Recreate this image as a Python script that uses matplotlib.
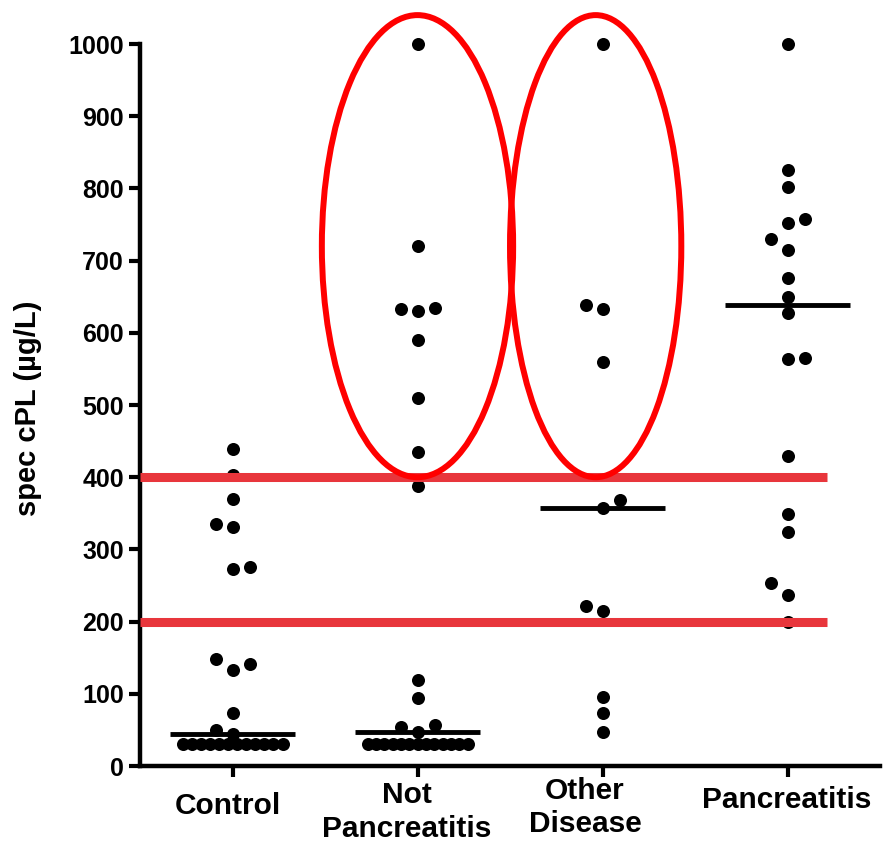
import matplotlib
matplotlib.use('Agg')
import matplotlib.pyplot as plt
from matplotlib.patches import Ellipse
import numpy as np

plt.rcParams['font.family'] = ['Liberation Sans', 'DejaVu Sans']
plt.rcParams['font.weight'] = 'bold'

# values (30 = assay floor, 1000 = assay ceiling)
groups = ['Control', 'Not\nPancreatitis', 'Other\nDisease', 'Pancreatitis']
control = [439, 403, 370, 335, 331, 276, 273, 148, 141, 133, 73, 50, 44] + [30] * 12
not_pancreatitis = [1000, 720, 634, 633, 630, 590, 510, 435, 388, 119, 94, 57, 54, 47] + [30] * 13
other_disease = [1000, 638, 633, 560, 368, 357, 221, 215, 96, 73, 47]
pancreatitis = [1000, 825, 802, 758, 752, 730, 714, 676, 650, 627, 565, 564,
                429, 349, 324, 254, 237, 200]
series = [control, not_pancreatitis, other_disease, pancreatitis]
cutoffs = [200, 400]
yticks = list(range(0, 1001, 100))
floor_value = 30

# highlighted regions (group index, centre value, width in groups, height in ug/L)
highlights = [(1.0, 720, 1.034, 640), (1.963, 720, 0.926, 640)]

# label placement (x in group units, top of text in data units)
label_x = [-0.027, 0.942, 1.906, 2.994]
label_top = [-36, -21, -15, -28]


def swarm(ax, gx, values, slot_px=17.0, hit_px=14.0, row_px=100.0):
    p0 = ax.transData.transform((0, 0))
    p1 = ax.transData.transform((1, 1))
    ppx, ppy = p1[0] - p0[0], p1[1] - p0[1]
    vals = np.sort(np.asarray(values, dtype=float))
    floor = vals[vals <= floor_value]
    rest = vals[vals > floor_value]
    xs, ys = [], []
    if len(floor) > 1:
        offs = np.linspace(-row_px / 2, row_px / 2, len(floor))
    else:
        offs = np.zeros(len(floor))
    for o, v in zip(offs, floor):
        xs.append(gx + o / ppx)
        ys.append(v)
    placed = []
    side = -1
    for v in rest:
        y = v * ppy
        cands = [0]
        for k in range(1, 6):
            cands += [side * k, -side * k]
        for k in cands:
            x = k * slot_px
            if all(np.hypot(x - px, y - py) >= hit_px for px, py in placed):
                break
        placed.append((x, y))
        if k != 0:
            side = -side
        xs.append(gx + x / ppx)
        ys.append(v)
    return xs, ys


fig = plt.figure(figsize=(8.89, 8.47), dpi=100)
ax = fig.add_axes([140 / 889, 1 - 766 / 847, 740 / 889, 722 / 847])
ax.set_xlim(-0.5, 3.5)
ax.set_ylim(0, 1000)

for i, vals in enumerate(series):
    xs, ys = swarm(ax, i, vals)
    ax.scatter(xs, ys, s=88, color='black', linewidths=0, zorder=2, clip_on=False)
    med = np.median(vals)
    ax.hlines(med, i - 0.34, i + 0.34, color='black', lw=3.5, zorder=3)

ax.hlines(cutoffs, -0.5, 3.215, color='#e8363c', lw=6.5, zorder=4)

for cx, cy, w, h in highlights:
    ax.add_patch(Ellipse((cx, cy), w, h, fill=False, ec='#ff0000', lw=4.3,
                         zorder=5, clip_on=False))

for sp in ['top', 'right']:
    ax.spines[sp].set_visible(False)
for sp in ['left', 'bottom']:
    ax.spines[sp].set_linewidth(3.2)

ax.set_yticks(yticks)
ax.tick_params(axis='y', length=8, width=3, labelsize=18, pad=3.5)
ax.set_xticks(range(len(groups)))
ax.set_xticklabels([])
ax.tick_params(axis='x', length=8, width=3)

for lx, ly, name in zip(label_x, label_top, groups):
    ax.text(lx, ly, name, ha='center', va='top', fontsize=21.5,
            fontweight='bold', linespacing=1.25, clip_on=False)

ax.text(-0.151, 0.496, 'spec cPL (µg/L)', transform=ax.transAxes, rotation=90,
        ha='center', va='center', fontsize=21, fontweight='bold')

fig.savefig('out.png', dpi=100)
